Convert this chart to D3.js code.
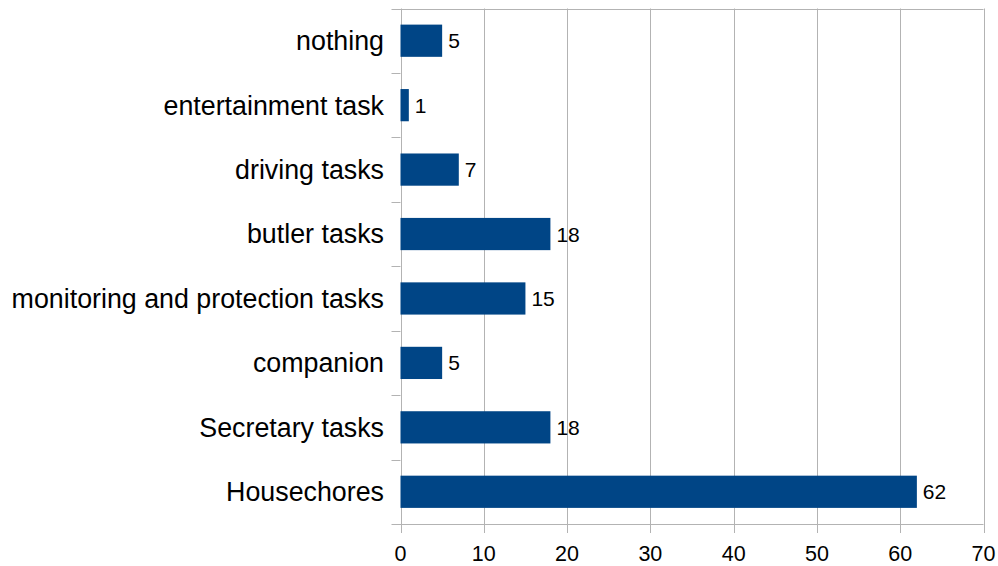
<!DOCTYPE html>
<html>
<head>
<meta charset="utf-8">
<script src="https://cdn.jsdelivr.net/npm/d3@7"></script>
<style>
  html, body { margin: 0; padding: 0; background: #fff; }
  svg { display: block; font-family: "Liberation Sans", Arial, sans-serif; }
</style>
</head>
<body>
<svg id="chart" width="998" height="566"></svg>
<script>
// Categories listed top to bottom
const categories = [
  "nothing",
  "entertainment task",
  "driving tasks",
  "butler tasks",
  "monitoring and protection tasks",
  "companion",
  "Secretary tasks",
  "Housechores"
];
const values = [5, 1, 7, 18, 15, 5, 18, 62];
const xTicks = [0, 10, 20, 30, 40, 50, 60, 70];

const svg = d3.select("#chart");
const plotLeft = 400.5, plotRight = 983.5, plotTop = 8.5, plotBottom = 524;
const gridColor = "#b3b3b3";
const barColor = "#004586";

const x = d3.scaleLinear().domain([0, 70]).range([plotLeft, plotRight]);
const y = d3.scaleBand().domain(categories).range([plotTop, plotBottom]).paddingInner(0.5).paddingOuter(0.25);
const band = d3.scaleBand().domain(categories).range([plotTop, plotBottom]).padding(0);

// Vertical gridlines with tick marks below the axis
svg.append("g").selectAll("line").data(xTicks).join("line")
  .attr("x1", d => Math.round(x(d)) + 0.5).attr("x2", d => Math.round(x(d)) + 0.5)
  .attr("y1", plotTop).attr("y2", plotBottom + 9)
  .attr("stroke", gridColor).attr("stroke-width", 1);

// Top border and x axis line
[plotTop, plotBottom].forEach(yy => {
  svg.append("line")
    .attr("x1", plotLeft - 9).attr("x2", plotRight)
    .attr("y1", Math.round(yy) + 0.5).attr("y2", Math.round(yy) + 0.5)
    .attr("stroke", gridColor).attr("stroke-width", 1);
});

// Category tick marks at band boundaries
const boundaries = categories.map(c => band(c)).slice(1);
svg.append("g").selectAll("line").data(boundaries).join("line")
  .attr("x1", plotLeft - 9).attr("x2", plotLeft)
  .attr("y1", d => Math.round(d) + 0.5).attr("y2", d => Math.round(d) + 0.5)
  .attr("stroke", gridColor).attr("stroke-width", 1);

// Bars
svg.append("g").selectAll("rect").data(categories).join("rect")
  .attr("x", x(0))
  .attr("y", c => y(c))
  .attr("width", (c, i) => x(values[i]) - x(0))
  .attr("height", y.bandwidth())
  .attr("fill", barColor);

// Value labels
svg.append("g").selectAll("text").data(categories).join("text")
  .attr("x", (c, i) => x(values[i]) + 6)
  .attr("y", c => y(c) + y.bandwidth() / 2)
  .attr("dy", "0.36em")
  .attr("font-size", 21)
  .attr("fill", "#000")
  .text((c, i) => values[i]);

// Category labels
svg.append("g").selectAll("text").data(categories).join("text")
  .attr("x", 384)
  .attr("y", c => y(c) + y.bandwidth() / 2)
  .attr("dy", "0.35em")
  .attr("text-anchor", "end")
  .attr("font-size", 26.8)
  .attr("fill", "#000")
  .text(c => c);

// X tick labels
svg.append("g").selectAll("text").data(xTicks).join("text")
  .attr("x", d => x(d))
  .attr("y", 561)
  .attr("text-anchor", "middle")
  .attr("font-size", 21.5)
  .attr("fill", "#000")
  .text(d => d);
</script>
</body>
</html>
